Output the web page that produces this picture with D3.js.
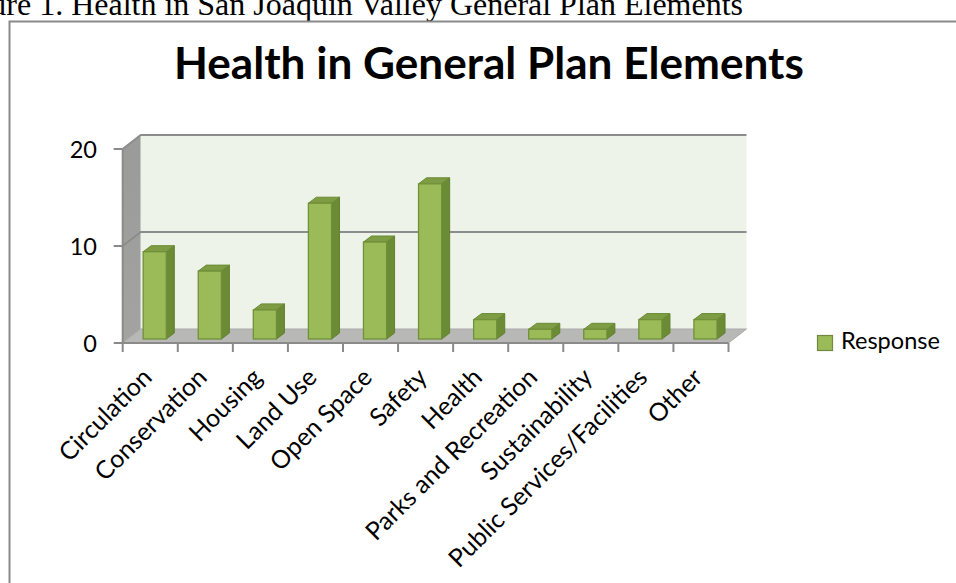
<!DOCTYPE html>
<html>
<head>
<meta charset="utf-8">
<script src="https://cdn.jsdelivr.net/npm/d3@7"></script>
<style>
html,body{margin:0;padding:0;background:#fff;}
svg{display:block;}
</style>
</head>
<body>
<svg id="chart" width="956" height="583"></svg>
<script>
// ---- data ----
const categories = ["Circulation","Conservation","Housing","Land Use","Open Space","Safety","Health","Parks and Recreation","Sustainability","Public Services/Facilities","Other"];
const responseValues = [9,7,3,14,10,16,2,1,1,2,2];
const seriesName = "Response";
const yTicks = [0,10,20];
const chartTitle = "Health in General Plan Elements";
const figureCaption = "Figure 1. Health in San Joaquin Valley General Plan Elements";

const svg = d3.select("#chart");
const W = 956, H = 583;
svg.append("rect").attr("width",W).attr("height",H).attr("fill","#fff");

const FONT = "Lato, 'Open Sans', sans-serif";
function measure(txt, size, weight, family){
  const t = svg.append("text").attr("font-family",family||FONT).attr("font-size",size)
    .attr("font-weight",weight||"normal").text(txt);
  const w = t.node().getComputedTextLength(); t.remove(); return w;
}

// caption (cut off at top, as in the source page)
const capFont = "'Liberation Serif', 'Times New Roman', serif";
const capSubW = measure("Health in San Joaquin Valley General Plan Elements", 100, "normal", capFont);
const capSize = 100 * 672 / capSubW;
svg.append("text").attr("x",743).attr("y",15).attr("text-anchor","end")
  .attr("font-family",capFont).attr("font-size",capSize).attr("fill","#000").text(figureCaption);

// chart frame
svg.append("path").attr("d",`M9.5,${H+2} L9.5,21.5 L${W+2},21.5`).attr("fill","none")
  .attr("stroke","#8a8a8a").attr("stroke-width",2);

// title
const titleW = measure(chartTitle, 100, "bold");
const titleSize = 100 * 630 / titleW;
svg.append("text").attr("x",174).attr("y",79).attr("font-family",FONT).attr("font-weight","bold")
  .attr("font-size",titleSize).attr("fill","#000").text(chartTitle);

// label font sizes
const lblSize = 100 * 99 / measure(seriesName, 100);
const catSize = lblSize * 1.06;

// scales
const x = d3.scaleBand().domain(categories).range([122.7, 728.5]).padding(0);
const y = d3.scaleLinear().domain([0,20]).range([343,149]);
const DX = 18, DY = -14;          // wall depth
const FX = 4.5, FY = -4;          // bar front-plane offset
const BX = 8, BY = -6;            // bar depth
const x0 = x.range()[0], x1 = x.range()[1];

// side wall
const sideGrad = svg.append("defs").append("linearGradient").attr("id","sideG")
  .attr("x1","0").attr("y1","0").attr("x2","0").attr("y2","1");
sideGrad.append("stop").attr("offset","0").attr("stop-color","#9a9b99");
sideGrad.append("stop").attr("offset","1").attr("stop-color","#a3a4a2");
svg.append("path")
  .attr("d",`M${x0},${y(20)} L${x0+DX},${y(20)+DY} L${x0+DX},${y(0)+DY} L${x0},${y(0)} Z`)
  .attr("fill","url(#sideG)").attr("stroke","#b0b0b0").attr("stroke-width",1);

// back wall
svg.append("rect").attr("x",x0+DX).attr("y",y(20)+DY).attr("width",x1-x0).attr("height",y(0)-y(20))
  .attr("fill","#eef3ea");

// floor
svg.append("path")
  .attr("d",`M${x0},${y(0)} L${x0+DX},${y(0)+DY} L${x1+DX},${y(0)+DY} L${x1},${y(0)} Z`)
  .attr("fill","#b8b9b7").attr("stroke","#a9aaa8").attr("stroke-width",1);

// gridlines (10 and 20)
yTicks.filter(t=>t>0).forEach(t=>{
  svg.append("path")
    .attr("d",`M${x0},${y(t)} L${x0+DX},${y(t)+DY} L${x1+DX},${y(t)+DY}`)
    .attr("fill","none").attr("stroke","#8c8c8c").attr("stroke-width",2);
});

// axes
const axisCol = "#8a8a8a";
svg.append("line").attr("x1",x0).attr("x2",x0).attr("y1",y(20)).attr("y2",y(0)+1)
  .attr("stroke",axisCol).attr("stroke-width",2);
yTicks.forEach(t=>{
  svg.append("line").attr("x1",x0-9).attr("x2",x0).attr("y1",y(t)).attr("y2",y(t))
    .attr("stroke",axisCol).attr("stroke-width",2);
  svg.append("text").attr("x",97).attr("y",y(t)+9).attr("text-anchor","end")
    .attr("font-family",FONT).attr("font-size",lblSize).attr("fill","#000").text(t);
});
svg.append("line").attr("x1",x0).attr("x2",x1).attr("y1",y(0)).attr("y2",y(0))
  .attr("stroke",axisCol).attr("stroke-width",2);
const bounds = categories.map(c=>x(c)).concat([x1]);
bounds.forEach(b=>{
  svg.append("line").attr("x1",b).attr("x2",b).attr("y1",y(0)).attr("y2",y(0)+9)
    .attr("stroke",axisCol).attr("stroke-width",2);
});

// bars
const bw = x.bandwidth()*0.42;
const bars = svg.append("g");
categories.forEach((c,i)=>{
  const v = responseValues[i];
  const L = x(c) + (x.bandwidth()-bw)/2 + FX;
  const R = L + bw;
  const T = y(v) + FY, B = y(0) + FY;
  bars.append("path").attr("d",`M${R},${T} L${R+BX},${T+BY} L${R+BX},${B+BY} L${R},${B} Z`)
    .attr("fill","#6b8b35").attr("stroke","#62802f").attr("stroke-width",1);
  bars.append("path").attr("d",`M${L},${T} L${L+BX},${T+BY} L${R+BX},${T+BY} L${R},${T} Z`)
    .attr("fill","#7d9c43").attr("stroke","#6b8b35").attr("stroke-width",1);
  bars.append("rect").attr("x",L).attr("y",T).attr("width",bw).attr("height",B-T)
    .attr("fill","#9bbb59").attr("stroke","#71903a").attr("stroke-width",1.3);
});

// category labels
categories.forEach(c=>{
  const cx = x(c) + x.bandwidth()/2 + 3, cy = 379;
  svg.append("text").attr("transform",`translate(${cx},${cy}) rotate(-45)`)
    .attr("text-anchor","end").attr("font-family",FONT).attr("font-size",catSize)
    .attr("fill","#000").text(c);
});

// legend
svg.append("rect").attr("x",817.5).attr("y",335.5).attr("width",15).attr("height",15)
  .attr("fill","#9bbb59").attr("stroke","#71893f").attr("stroke-width",1.2);
svg.append("text").attr("x",841).attr("y",349).attr("font-family",FONT).attr("font-size",lblSize)
  .attr("fill","#000").text(seriesName);
</script>
</body>
</html>
